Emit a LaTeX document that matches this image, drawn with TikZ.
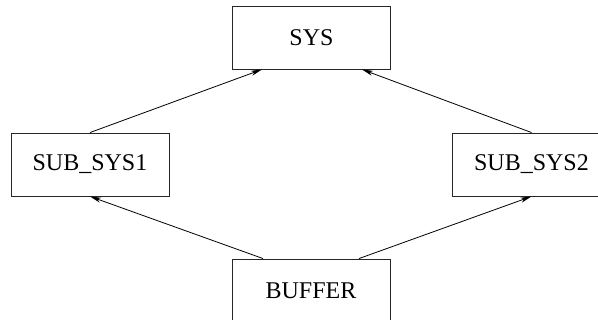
\documentclass[tikz,border=0pt]{standalone}
\usepackage{fontspec}
\setmainfont{Liberation Serif}
\usetikzlibrary{arrows.meta,calc}
\tikzset{
  box/.style={draw=black!85, line width=0.9pt, rectangle, inner sep=0pt,
    minimum width=158pt, minimum height=63pt, font=\fontsize{24}{28}\selectfont},
  arr/.style={draw=black, line width=0.8pt, -{Stealth[length=11pt,width=5pt,inset=3pt]}}
}
\begin{document}
\begin{tikzpicture}[x=1pt,y=-1pt]
  \useasboundingbox (0,0) rectangle (598,320);
  \begin{scope}
    \clip (0,0) rectangle (598,320);
    \node[box] (sys)  at (311.5,37.5)  {SYS};
    \node[box] (sub1) at (90,164.5)    {SUB\_SYS1};
    \node[box] (sub2) at (531.5,164.5) {SUB\_SYS2};
    \node[box] (buf)  at (311,290.5)   {BUFFER};
    % where the edges meet the lower side of SYS and the upper side of BUFFER
    \coordinate (sysl) at ($(sys.south)+(-49.5,0)$);
    \coordinate (sysr) at ($(sys.south)+(50.5,0)$);
    \coordinate (bl)   at ($(buf.north)+(-48,0)$);
    \coordinate (br)   at ($(buf.north)+(48,0)$);
    \draw[arr] (sub1.north) -- (sysl);
    \draw[arr] (sub2.north) -- (sysr);
    \draw[arr] (bl) -- (sub1.south);
    \draw[arr] (br) -- (sub2.south);
  \end{scope}
\end{tikzpicture}
\end{document}
